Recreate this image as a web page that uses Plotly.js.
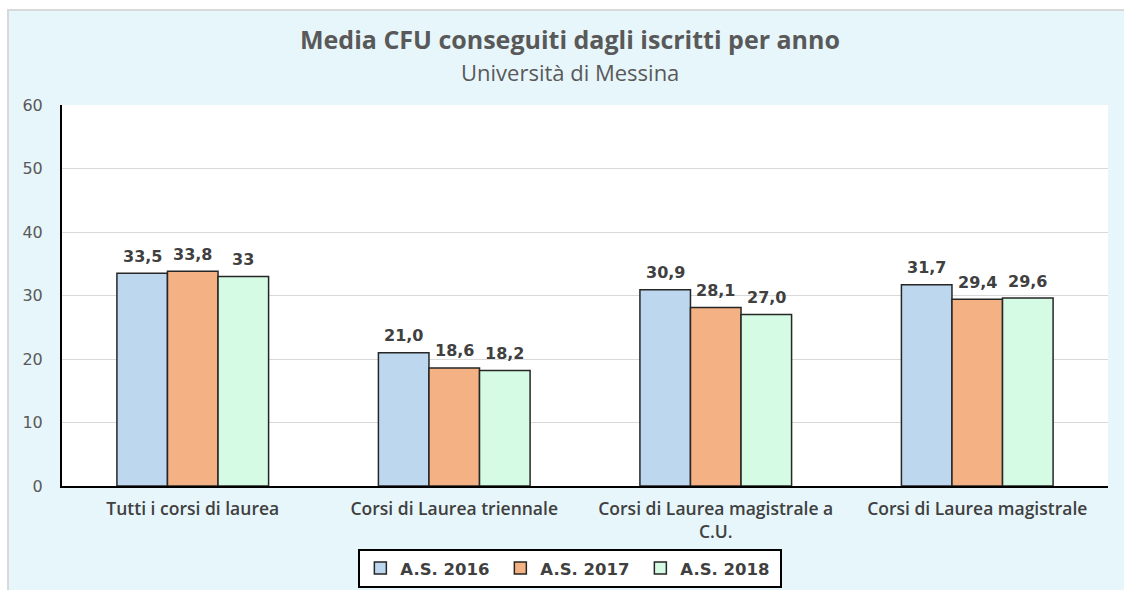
<!DOCTYPE html>
<html>
<head>
<meta charset="utf-8">
<script src="https://cdn.plot.ly/plotly-3.0.1.min.js"></script>
<style>
  body { margin: 0; background: #ffffff; overflow: hidden; }
  #frame {
    position: absolute; left: 7px; top: 9px;
    width: 1117px; height: 581px;
    border-left: 2px solid #d9d9d9; border-top: 2px solid #d9d9d9;
    box-sizing: border-box;
    background: #e7f6fb;
  }
  #chart { width: 1115px; height: 579px; }
</style>
</head>
<body>
<div id="frame"><div id="chart"></div></div>
<script>
var categories = [
    'Tutti i corsi di laurea',
    'Corsi di Laurea triennale',
    'Corsi di Laurea magistrale a<br>C.U.',
    'Corsi di Laurea magistrale'
];
var seriesNames = ['A.S. 2016', 'A.S. 2017', 'A.S. 2018'];
var values2016 = [33.5, 21.0, 30.9, 31.7];
var values2017 = [33.8, 18.6, 28.1, 29.4];
var values2018 = [33.0, 18.2, 27.0, 29.6];
var labels2016 = ['33,5', '21,0', '30,9', '31,7'];
var labels2017 = ['33,8', '18,6', '28,1', '29,4'];
var labels2018 = ['33', '18,2', '27,0', '29,6'];
var colors = ['#bdd7ee', '#f4b183', '#d5fbe5'];

var seriesValues = [values2016, values2017, values2018];
var seriesLabels = [labels2016, labels2017, labels2018];

var plotWidth = 1115 - 53 - 16;
var barWidth = plotWidth / categories.length * (1 - 0.42) / 3;

var data = seriesNames.map(function(name, i) {
    return {
        type: 'bar',
        name: name,
        x: categories,
        y: seriesValues[i],
        marker: {color: colors[i], line: {color: '#262626', width: 1.5}},
        hoverinfo: 'x+y'
    };
});

// value labels sitting above each bar
var annotations = [];
seriesNames.forEach(function(name, i) {
    categories.forEach(function(cat, j) {
        annotations.push({
            x: cat,
            y: seriesValues[i][j],
            xref: 'x', yref: 'y',
            text: seriesLabels[i][j],
            showarrow: false,
            xshift: (i - 1) * barWidth,
            yshift: 17,
            font: {family: 'DejaVu Sans', size: 16, color: '#404040', weight: 'bold'}
        });
    });
});

annotations.push({
    text: 'Media CFU conseguiti dagli iscritti per anno',
    xref: 'paper', yref: 'paper',
    x: 0.486, y: 1, yshift: 66,
    xanchor: 'center', yanchor: 'middle',
    showarrow: false,
    font: {family: 'Open Sans', size: 25, color: '#595959', weight: 'bold'}
});
annotations.push({
    text: 'Università di Messina',
    xref: 'paper', yref: 'paper',
    x: 0.486, y: 1, yshift: 33,
    xanchor: 'center', yanchor: 'middle',
    showarrow: false,
    font: {family: 'Open Sans', size: 22, color: '#595959'}
});

var layout = {
    width: 1115,
    height: 579,
    margin: {l: 53, r: 16, t: 94, b: 104},
    paper_bgcolor: 'rgba(0,0,0,0)',
    plot_bgcolor: '#ffffff',
    barmode: 'group',
    bargap: 0.42,
    bargroupgap: 0,
    font: {family: 'Open Sans', color: '#404040'},
    xaxis: {
        showline: true,
        linecolor: '#000000',
        linewidth: 2,
        ticks: '',
        ticklabelstandoff: 6,
        tickfont: {family: 'Open Sans', size: 17.5, color: '#404040', weight: 600}
    },
    yaxis: {
        range: [0, 60],
        dtick: 10,
        showline: true,
        linecolor: '#000000',
        linewidth: 2,
        gridcolor: '#d9d9d9',
        gridwidth: 1,
        zeroline: false,
        ticks: '',
        ticklabelstandoff: 14,
        tickfont: {family: 'DejaVu Sans', size: 16, color: '#595959'}
    },
    showlegend: true,
    legend: {
        orientation: 'h',
        x: 0.486,
        xanchor: 'center',
        yref: 'container',
        y: 0.071,
        yanchor: 'top',
        bgcolor: '#ffffff',
        bordercolor: '#000000',
        borderwidth: 2,
        entrywidth: 95,
        entrywidthmode: 'pixels',
        font: {family: 'DejaVu Sans', size: 16.5, color: '#404040', weight: 'bold'}
    },
    annotations: annotations
};

Plotly.newPlot('chart', data, layout, {displayModeBar: false});
</script>
</body>
</html>
